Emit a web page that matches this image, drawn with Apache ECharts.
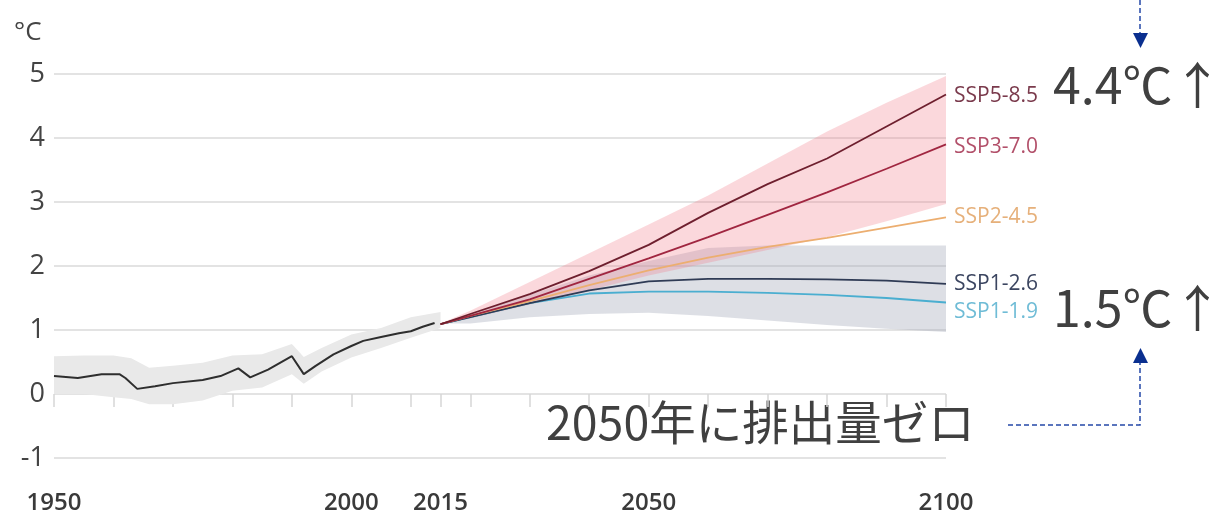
<!DOCTYPE html>
<html>
<head>
<meta charset="utf-8">
<title>SSP</title>
<script src="https://cdn.jsdelivr.net/npm/echarts@6/dist/echarts.min.js"></script>
<style>
	html,body{margin:0;padding:0;background:#fff;}
	#charts{width:1216px;height:517px;}
</style>
</head>
<body>
<div id="charts"></div>
<script>
//观测值 1950-2015
var histYears = [1950,1954,1958,1961,1962,1964,1967,1970,1975,1978,1981,1983,1986,1990,1992,1994,1997,2000,2002,2005,2008,2010,2012,2014];
var histValues = [0.28,0.25,0.31,0.31,0.25,0.08,0.12,0.17,0.22,0.28,0.40,0.26,0.38,0.59,0.31,0.44,0.62,0.75,0.83,0.89,0.95,0.98,1.05,1.11];
//观测范围
var histBandYears = [1950,1955,1960,1963,1966,1970,1975,1980,1985,1990,1992,1995,2000,2005,2010,2015];
var histBandUpper = [0.59,0.60,0.60,0.56,0.41,0.44,0.49,0.60,0.62,0.78,0.58,0.72,0.93,1.03,1.20,1.28];
var histBandLower = [0.00,0.00,-0.05,-0.08,-0.16,-0.16,-0.10,0.05,0.10,0.31,0.16,0.35,0.57,0.72,0.88,1.03];

//预测 2015-2100
var projYears = [2015,2020,2030,2040,2050,2060,2070,2080,2090,2100];
var ssp585 = [1.09,1.25,1.56,1.92,2.33,2.83,3.28,3.68,4.18,4.68];
var ssp370 = [1.09,1.22,1.48,1.80,2.12,2.45,2.80,3.15,3.52,3.90];
var ssp245 = [1.09,1.22,1.45,1.70,1.93,2.13,2.30,2.44,2.60,2.76];
var ssp126 = [1.09,1.20,1.42,1.62,1.76,1.80,1.80,1.79,1.77,1.72];
var ssp119 = [1.09,1.20,1.42,1.57,1.60,1.60,1.58,1.55,1.50,1.43];
//范围带
var redUpper = [1.10,1.30,1.75,2.20,2.65,3.10,3.60,4.10,4.55,4.97];
var redLower = [1.10,1.18,1.40,1.62,1.85,2.05,2.25,2.45,2.70,2.97];
var grayUpper = [1.10,1.25,1.55,1.85,2.08,2.28,2.32,2.32,2.32,2.32];
var grayLower = [1.10,1.10,1.20,1.25,1.27,1.22,1.15,1.08,1.02,0.97];

var labelYears = [1950,2000,2015,2050,2100];
var tickYears = [1950,1960,1970,1980,1990,2000,2010,2015,2020,2030,2040,2050,2060,2070,2080,2090,2100];

function pairs(xs, ys){
	var arr = [];
	for(var i=0;i<xs.length;i++){
		arr.push([xs[i], ys[i]]);
	}
	return arr;
}

//范围带: custom 多边形 (上沿 + 反向下沿)
function band(name, xs, up, low, color){
	return {
		name: name,
		type: 'custom',
		silent: true,
		z: 1,
		data: pairs(xs, up),
		renderItem: function(params, api){
			if(params.dataIndex != 0){
				return;
			}
			var pts = [];
			for(var i=0;i<xs.length;i++){
				pts.push(api.coord([xs[i], up[i]]));
			}
			for(var j=xs.length-1;j>=0;j--){
				pts.push(api.coord([xs[j], low[j]]));
			}
			return {
				type: 'polygon',
				shape: {points: pts},
				style: {fill: color}
			};
		}
	};
}

//情景线 + 末端标签
function ssp(name, values, color, labelColor, dy){
	return {
		name: name,
		type: 'line',
		symbol: 'none',
		z: 5,
		lineStyle: {color: color, width: 1.8},
		data: pairs(projYears, values),
		endLabel: {
			show: true,
			formatter: '{a}',
			color: labelColor,
			fontSize: 21,
			fontFamily: 'Open Sans',
			distance: 8,
			offset: [0, dy]
		}
	};
}

var series = [];
series.push(band('hist', histBandYears, histBandUpper, histBandLower, '#e9e9e9'));
series.push(band('gray', projYears, grayUpper, grayLower, 'rgba(165,172,186,0.38)'));
series.push(band('red', projYears, redUpper, redLower, 'rgba(242,125,138,0.3)'));
series.push({
	name: '観測',
	type: 'line',
	symbol: 'none',
	z: 5,
	lineStyle: {color: '#2e2e2e', width: 2},
	data: pairs(histYears, histValues)
});
series.push(ssp('SSP1-1.9', ssp119, '#4aaed0', '#6fbcd6', 10));
series.push(ssp('SSP1-2.6', ssp126, '#2f3b55', '#3b4560', 0));
series.push(ssp('SSP2-4.5', ssp245, '#ecae70', '#e6b07a', 0));
series.push(ssp('SSP3-7.0', ssp370, '#a02640', '#b2506a', 3));
series.push(ssp('SSP5-8.5', ssp585, '#6e1f2e', '#7a3a4c', 2));

var charts = echarts.init(document.getElementById('charts'));
var option = {
	animation: false,
	backgroundColor: '#fff',
	grid: {
		left: 54,
		right: 270,
		top: 74,
		bottom: 59
	},
	xAxis: {
		type: 'value',
		min: 1950,
		max: 2100,
		interval: 5,
		axisLine: {show: false},
		splitLine: {show: false},
		axisTick: {
			show: true,
			customValues: tickYears,
			length: 13,
			lineStyle: {color: '#d6d6d6', width: 1.5}
		},
		axisLabel: {
			customValues: labelYears,
			formatter: function(v){ return String(v); },
			margin: 33,
			fontSize: 24,
			fontWeight: 600,
			fontFamily: 'Open Sans',
			color: '#3a3a3a'
		}
	},
	yAxis: {
		type: 'value',
		min: -1,
		max: 5,
		interval: 1,
		axisLine: {show: false},
		axisTick: {show: false},
		axisLabel: {
			margin: 9,
			fontSize: 27,
			fontFamily: 'Open Sans',
			color: '#444'
		},
		splitLine: {lineStyle: {color: '#e3e3e3', width: 2}}
	},
	graphic: [
		{type: 'text', left: 14, top: 20, style: {text: '°C', fontSize: 26, fontFamily: 'Open Sans', fill: '#444'}},
		{type: 'text', left: 1053, top: 60, style: {text: '4.4℃↑', fontSize: 50, fontFamily: 'Noto Sans CJK JP', fill: '#404040'}},
		{type: 'text', left: 1053, top: 283, style: {text: '1.5℃↑', fontSize: 50, fontFamily: 'Noto Sans CJK JP', fill: '#404040'}},
		{type: 'text', left: 546, top: 399, style: {text: '2050年に排出量ゼロ', fontSize: 46.5, fontFamily: 'Noto Sans CJK JP', fill: '#404040'}},
		//上方箭头
		{type: 'polyline', shape: {points: [[1140, 0], [1140, 34]]}, style: {stroke: '#2448a8', lineWidth: 1.5, lineDash: [5, 3]}},
		{type: 'polygon', shape: {points: [[1133, 33], [1148, 33], [1140.5, 48]]}, style: {fill: '#0a2f8f'}},
		//下方箭头
		{type: 'polyline', shape: {points: [[1008, 425], [1140, 425], [1140, 363]]}, style: {stroke: '#2448a8', lineWidth: 1.5, lineDash: [5, 3], fill: null}},
		{type: 'polygon', shape: {points: [[1133, 363], [1148, 363], [1140.5, 348]]}, style: {fill: '#0a2f8f'}}
	],
	series: series
};
charts.setOption(option);
</script>
</body>
</html>
